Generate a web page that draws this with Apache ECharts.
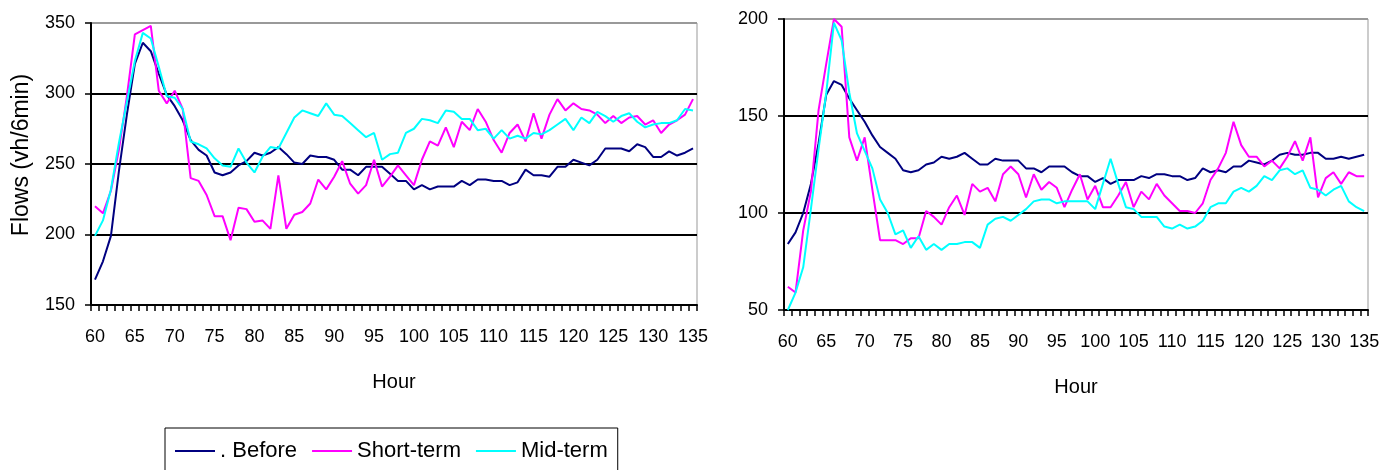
<!DOCTYPE html>
<html>
<head>
<meta charset="utf-8">
<script src="https://cdn.jsdelivr.net/npm/echarts@6/dist/echarts.min.js"></script>
<style>
  html, body { margin: 0; padding: 0; background: #fff; }
  #container { width: 1395px; height: 470px; }
</style>
</head>
<body>
<div id="container"></div>
<script>
// hours on the x axis (one category per 6-min interval)
var hours = [60,61,62,63,64,65,66,67,68,69,70,71,72,73,74,75,76,77,78,79,
	80,81,82,83,84,85,86,87,88,89,90,91,92,93,94,95,96,97,98,99,
	100,101,102,103,104,105,106,107,108,109,110,111,112,113,114,115,116,117,118,119,
	120,121,122,123,124,125,126,127,128,129,130,131,132,133,134,135];

// left panel
var leftBefore = [168,181,199,245,285,321,336,330,314,299,
	291,281,267,260,256,244,242,244,249,252,
	258,256,258,262,257,251,250,256,255,255,
	253,246,246,242,248,248,248,243,238,238,
	232,235,232,234,234,234,238,235,239,239,
	238,238,235,237,246,242,242,241,248,248,
	253,251,249,253,261,261,261,259,264,262,
	255,255,259,256,258,261];
var leftShort = [220,215,231,260,298,342,345,348,302,293,
	302,289,240,238,228,213,213,196,219,218,
	209,210,204,242,204,214,216,222,239,232,
	241,252,236,229,235,253,234,241,249,242,
	235,253,266,263,276,262,280,274,289,280,
	267,258,272,278,266,286,268,285,296,288,
	293,289,288,285,279,284,279,283,284,278,
	281,272,278,281,285,296];
var leftMid = [199,210,232,265,294,323,343,339,319,298,
	297,289,266,264,261,254,249,248,261,251,
	244,255,262,261,272,283,288,286,284,293,
	285,284,279,274,269,272,253,257,258,272,
	275,282,281,279,288,287,282,282,274,275,
	268,274,268,270,268,272,271,274,278,282,
	274,283,279,287,284,280,284,286,280,276,
	278,279,279,281,289,288];

// right panel
var rightBefore = [84,90,100,115,136,161,168,166,159,153,
	147,140,134,131,128,122,121,122,125,126,
	129,128,129,131,128,125,125,128,127,127,
	127,123,123,121,124,124,124,121,119,119,
	116,118,115,117,117,117,119,118,120,120,
	119,119,117,118,123,121,122,121,124,124,
	127,126,125,127,130,131,130,130,131,131,
	128,128,129,128,129,130];
var rightShort = [62,59,91,111,153,177,200,196,139,127,
	139,112,86,86,86,84,87,87,101,98,
	94,103,109,99,115,111,113,106,120,124,
	120,108,120,112,116,113,103,112,120,107,
	114,103,103,109,116,103,111,107,115,109,
	105,101,101,100,105,117,123,131,147,135,
	129,129,124,127,123,129,137,127,139,108,
	118,121,115,121,119,119];
var rightMid = [50,59,72,102,133,162,198,189,162,141,
	132,123,107,100,89,91,82,88,81,84,
	81,84,84,85,85,82,94,97,98,96,
	99,102,106,107,107,105,106,106,106,106,
	102,115,128,115,103,102,98,98,98,93,
	92,94,92,93,96,103,105,105,111,113,
	111,114,119,117,122,123,120,122,113,112,
	109,112,114,106,103,101];

var seriesNames = ['. Before', 'Short-term', 'Mid-term'];
var seriesColors = ['#000080', '#ff00ff', '#00ffff'];

var font = 'Liberation Sans, Arial, sans-serif';

function makeXAxis(gridIndex) {
	return {
		type: 'category',
		gridIndex: gridIndex,
		data: hours,
		boundaryGap: true,
		name: 'Hour',
		nameLocation: 'middle',
		nameGap: 67,
		nameTextStyle: { color: '#000', fontSize: 20, fontFamily: font },
		axisLine: { lineStyle: { color: '#000', width: 2 } },
		axisTick: { show: true, interval: 0, length: 6, lineStyle: { color: '#000', width: 1.5 } },
		axisLabel: { interval: 4, color: '#000', fontSize: 18, fontFamily: font, margin: 23 },
		splitLine: { show: false }
	};
}

function makeYAxis(gridIndex, min, max, withName) {
	// black grid lines, grey one on top (plot area border)
	var colors = [];
	for (var v = min; v < max; v += 50) colors.push('#000');
	colors.push('#999');
	var axis = {
		type: 'value',
		gridIndex: gridIndex,
		min: min,
		max: max,
		interval: 50,
		axisLine: { show: true, lineStyle: { color: '#000', width: 2 } },
		axisTick: { show: true, length: 6, lineStyle: { color: '#000', width: 1.5 } },
		axisLabel: { color: '#000', fontSize: 18, fontFamily: font, margin: 16 },
		splitLine: { show: true, lineStyle: { color: colors, width: 2 } }
	};
	if (withName) {
		axis.name = 'Flows (vh/6min)';
		axis.nameLocation = 'middle';
		axis.nameRotate = 90;
		axis.nameGap = 58;
		axis.nameTextStyle = { color: '#000', fontSize: 23, fontFamily: font, padding: [0, 0, 0, 18] };
	}
	return axis;
}

function makeSeries(idx, data, axisIndex) {
	return {
		name: seriesNames[idx],
		type: 'line',
		xAxisIndex: axisIndex,
		yAxisIndex: axisIndex,
		data: data,
		symbol: 'none',
		animation: false,
		lineStyle: { color: seriesColors[idx], width: 2 },
		itemStyle: { color: seriesColors[idx] }
	};
}

var dom = document.getElementById("container");
var myChart = echarts.init(dom);
var option = {
	backgroundColor: '#fff',
	animation: false,
	grid: [
		{ left: 91, top: 23, width: 606, height: 282, show: true, borderColor: '#999', borderWidth: 1 },
		{ left: 784, top: 19, width: 584, height: 291, show: true, borderColor: '#999', borderWidth: 1 }
	],
	xAxis: [makeXAxis(0), makeXAxis(1)],
	yAxis: [makeYAxis(0, 150, 350, true), makeYAxis(1, 50, 200, false)],
	legend: {
		data: seriesNames,
		left: 165,
		top: 428,
		padding: [12, 10, 30, 9],
		itemGap: 14,
		itemWidth: 40,
		itemHeight: 14,
		borderColor: '#000',
		borderWidth: 1,
		itemStyle: { opacity: 0 },
		textStyle: { color: '#000', fontSize: 22, fontFamily: font }
	},
	series: [
		makeSeries(0, leftBefore, 0),
		makeSeries(1, leftShort, 0),
		makeSeries(2, leftMid, 0),
		makeSeries(0, rightBefore, 1),
		makeSeries(1, rightShort, 1),
		makeSeries(2, rightMid, 1)
	]
};
myChart.setOption(option);
</script>
</body>
</html>
